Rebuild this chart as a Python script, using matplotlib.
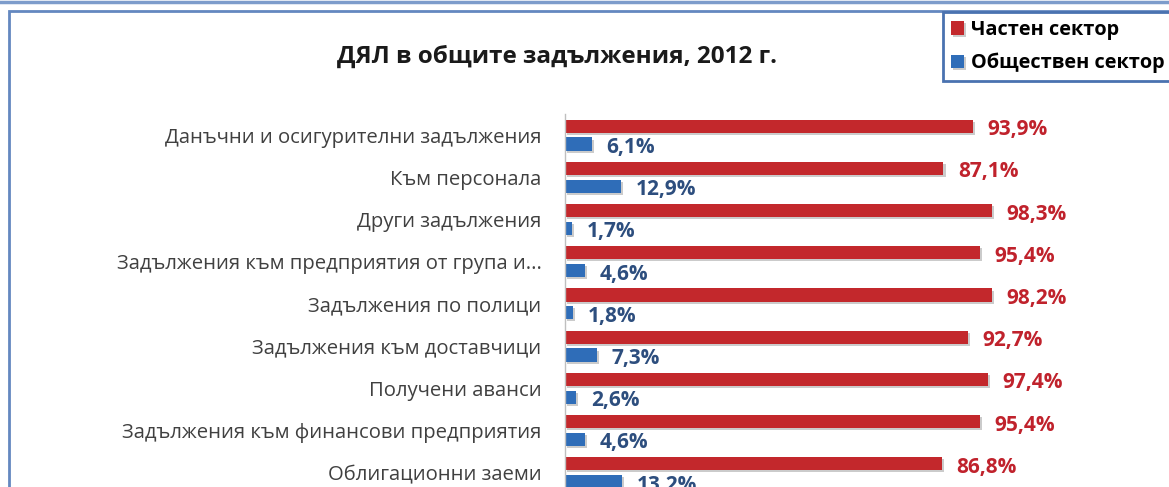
import matplotlib
matplotlib.use("Agg")
import matplotlib.pyplot as plt
import matplotlib.patheffects as pe
from matplotlib.patches import Rectangle
from matplotlib.lines import Line2D
import numpy as np

categories = [
    "Данъчни и осигурителни задължения",
    "Към персонала",
    "Други задължения",
    "Задължения към предприятия от група и...",
    "Задължения по полици",
    "Задължения към доставчици",
    "Получени аванси",
    "Задължения към финансови предприятия",
    "Облигационни заеми",
]
private_share = [93.9, 87.1, 98.3, 95.4, 98.2, 92.7, 97.4, 95.4, 86.8]
public_share = [6.1, 12.9, 1.7, 4.6, 1.8, 7.3, 2.6, 4.6, 13.2]
series_names = ["Частен сектор", "Обществен сектор"]
title = "ДЯЛ в общите задължения, 2012 г."

RED = "#C3282C"
BLUE = "#2F6DB8"
RED_TXT = "#C0222C"
BLUE_TXT = "#2D4E7E"

plt.rcParams["font.family"] = ["Open Sans", "DejaVu Sans"]

W, H = 1169, 487
fig = plt.figure(figsize=(W / 100, H / 100), dpi=100)
fig.patch.set_facecolor("white")

# outer frame bits that show in the crop
fig.add_artist(Line2D([0, 1], [1 - 1.5 / H, 1 - 1.5 / H], transform=fig.transFigure,
                      color="#7D9CCB", lw=2.5))
fig.add_artist(Rectangle((9 / W, -0.2), 1.5, 1.2 - 10.5 / H, transform=fig.transFigure,
                         fill=False, edgecolor="#6488C0", lw=2))

ax_top = 114
step = 42.2
ax = fig.add_axes([565 / W, 1 - (ax_top + 9 * step) / H, 434.5 / W, 9 * step / H])
ax.set_facecolor("none")

y = np.arange(len(categories))
h = 0.31
off = 0.21
shadow = [pe.SimplePatchShadow(offset=(1.5, -1.5), shadow_rgbFace="#999999", alpha=0.5), pe.Normal()]
red_bars = ax.barh(y - off, private_share, height=h, color=RED, label=series_names[0])
blue_bars = ax.barh(y + off, public_share, height=h, color=BLUE, label=series_names[1])
for b in list(red_bars) + list(blue_bars):
    b.set_path_effects(shadow)

for bars, vals, col in [(red_bars, private_share, RED_TXT), (blue_bars, public_share, BLUE_TXT)]:
    for b, v in zip(bars, vals):
        ax.annotate(f"{v:.1f}%".replace(".", ","),
                    xy=(b.get_width(), b.get_y() + b.get_height() / 2),
                    xytext=(10.5, -2.5), textcoords="offset points",
                    ha="left", va="center", fontsize=15, fontweight="bold",
                    color=col, annotation_clip=False)

ax.set_xlim(0, 100)
ax.set_ylim(len(categories) - 0.5, -0.5)
ax.set_yticks(y)
ax.set_yticklabels(categories, fontsize=14.6, color="#404040")
ax.tick_params(axis="y", length=0, pad=17)
ax.set_xticks([])
for s in ["top", "right", "bottom"]:
    ax.spines[s].set_visible(False)
ax.spines["left"].set_color("#BFBFBF")
ax.spines["left"].set_linewidth(1)

fig.text(557 / W, 1 - 57 / H, title, ha="center", va="center",
         fontsize=17.5, fontweight="bold", color="#1A1A1A")

leg = fig.legend(handles=[red_bars, blue_bars], labels=series_names,
                 loc="upper left", bbox_to_anchor=(943 / W, 1 - 12 / H),
                 prop={"weight": "bold", "size": 14.3}, handlelength=0.65, handleheight=0.65,
                 handletextpad=0.35, labelspacing=0.65, borderpad=0.4, borderaxespad=0,
                 fancybox=False, framealpha=1)
leg.get_frame().set_edgecolor("#4A72B0")
leg.get_frame().set_linewidth(2)

fig.savefig("out.png", dpi=100)
